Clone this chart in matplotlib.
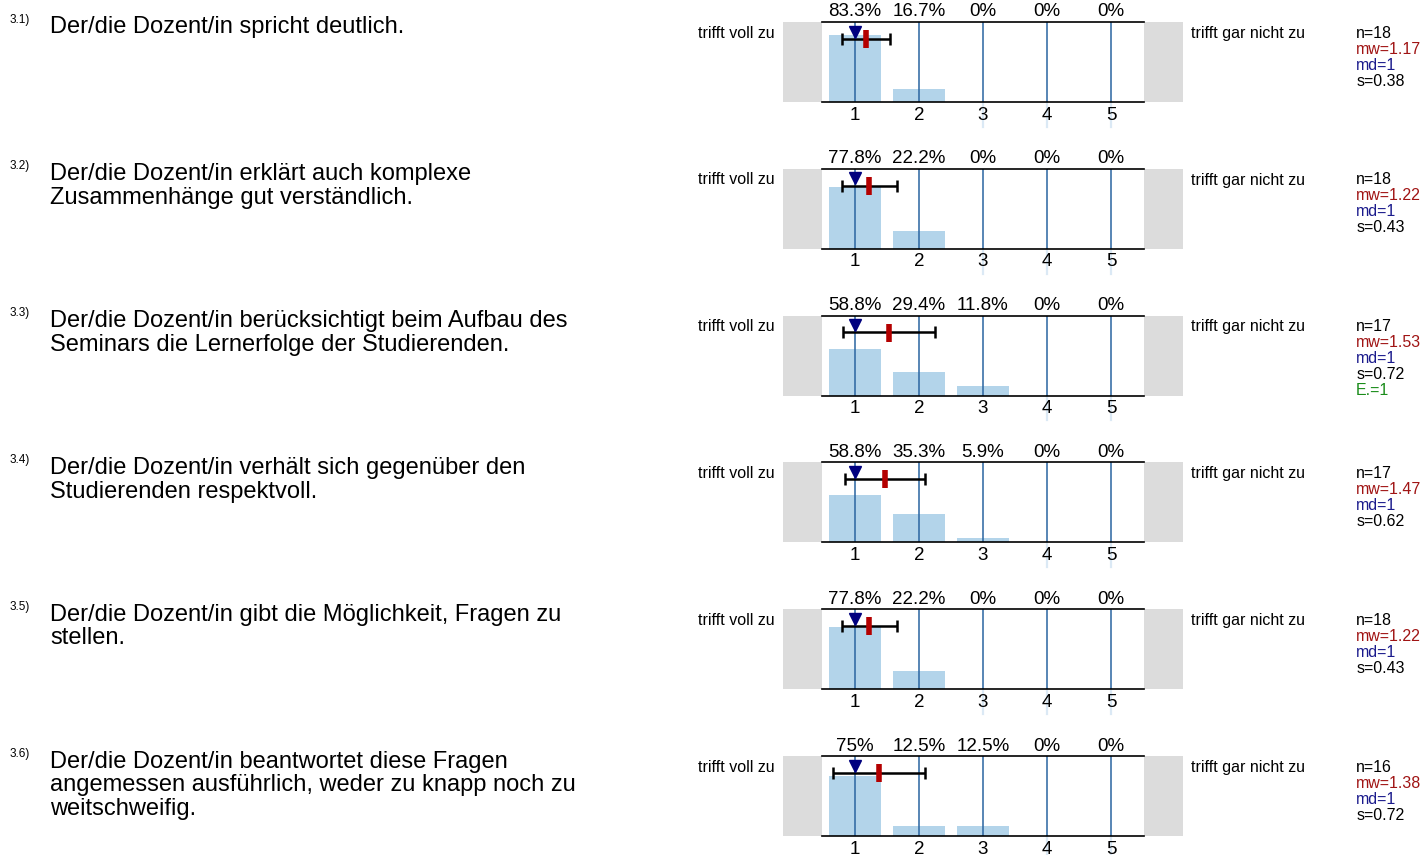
import matplotlib
matplotlib.use("Agg")
import matplotlib.pyplot as plt

plt.rcParams['font.family'] = ['Liberation Sans', 'DejaVu Sans']

# --- data ---
numbers = ["3.1)", "3.2)", "3.3)", "3.4)", "3.5)", "3.6)"]
questions = [
    "Der/die Dozent/in spricht deutlich.",
    "Der/die Dozent/in erklärt auch komplexe\nZusammenhänge gut verständlich.",
    "Der/die Dozent/in berücksichtigt beim Aufbau des\nSeminars die Lernerfolge der Studierenden.",
    "Der/die Dozent/in verhält sich gegenüber den\nStudierenden respektvoll.",
    "Der/die Dozent/in gibt die Möglichkeit, Fragen zu\nstellen.",
    "Der/die Dozent/in beantwortet diese Fragen\nangemessen ausführlich, weder zu knapp noch zu\nweitschweifig.",
]
categories = [1, 2, 3, 4, 5]
percents = [
    [83.3, 16.7, 0, 0, 0],
    [77.8, 22.2, 0, 0, 0],
    [58.8, 29.4, 11.8, 0, 0],
    [58.8, 35.3, 5.9, 0, 0],
    [77.8, 22.2, 0, 0, 0],
    [75, 12.5, 12.5, 0, 0],
]
pct_labels = [
    ["83.3%", "16.7%", "0%", "0%", "0%"],
    ["77.8%", "22.2%", "0%", "0%", "0%"],
    ["58.8%", "29.4%", "11.8%", "0%", "0%"],
    ["58.8%", "35.3%", "5.9%", "0%", "0%"],
    ["77.8%", "22.2%", "0%", "0%", "0%"],
    ["75%", "12.5%", "12.5%", "0%", "0%"],
]
n_vals = [18, 18, 17, 17, 18, 16]
means = [1.17, 1.22, 1.53, 1.47, 1.22, 1.38]
medians = [1, 1, 1, 1, 1, 1]
stds = [0.38, 0.43, 0.72, 0.62, 0.43, 0.72]
abstentions = [None, None, 1, None, None, None]
left_label = "trifft voll zu"
right_label = "trifft gar nicht zu"

W, H = 1425, 855
fig = plt.figure(figsize=(W / 100, H / 100), dpi=100)

bar_color = "#b3d4ea"
line_color = "#2a64a0"
gray = "#dcdcdc"

row_step = 146.8
for i in range(6):
    top = 22 + i * row_step
    ax = fig.add_axes([783 / W, 1 - (top + 80) / H, 400 / W, 80 / H])
    ax.set_xlim(-0.125, 6.125)
    ax.set_ylim(0, 100)
    ax.axis("off")

    # gray side boxes
    ax.axvspan(-0.125, 0.484, color=gray, lw=0)
    ax.axvspan(5.516, 6.125, color=gray, lw=0)

    ax.bar(categories, percents[i], width=0.8, color=bar_color, zorder=1)
    for c, p in zip(categories, percents[i]):
        ax.plot([c, c], [0, 100], color=line_color, lw=1.1, zorder=2)
        if p == 0:
            ax.plot([c, c], [0, -31], color="#dbe9f5", lw=1.6, zorder=0, clip_on=False)
    ax.plot([0.484, 5.516], [100, 100], color="black", lw=1.2, zorder=3, clip_on=False)
    ax.plot([0.484, 5.516], [0, 0], color="black", lw=1.2, zorder=3, clip_on=False)

    for c, lab in zip(categories, pct_labels[i]):
        ax.text(c, 112.5, lab, ha="center", va="center", fontsize=13.5, clip_on=False)
        ax.text(c, -16.5, str(c), ha="center", va="center", fontsize=13.5, clip_on=False)

    # std error bar, mean, median
    ax.errorbar(means[i], 79, xerr=stds[i], color="black", lw=1.8,
                capsize=4.5, capthick=1.8, zorder=4)
    ax.plot([means[i], means[i]], [67.5, 90], color="#b40000", lw=4,
            solid_capstyle="butt", zorder=5)
    ax.plot(medians[i], 88, marker="v", markersize=8, color="#00007f", zorder=6)

    ax.text(-0.25, 86, left_label, ha="right", va="center", fontsize=11.5, clip_on=False)
    ax.text(6.25, 86, right_label, ha="left", va="center", fontsize=11.5, clip_on=False)

    stats = [("n=%d" % n_vals[i], "black"),
             ("mw=%.2f" % means[i], "#a01414"),
             ("md=%d" % medians[i], "#1a1a8c"),
             ("s=%.2f" % stds[i], "black")]
    if abstentions[i] is not None:
        stats.append(("E.=%d" % abstentions[i], "#1a8c1a"))
    for k, (txt, col) in enumerate(stats):
        ax.text(8.83, 86 - 20 * k, txt, ha="left", va="center", fontsize=11.5,
                color=col, clip_on=False)

    base = 33.5 + i * row_step
    fig.text(10 / W, 1 - (base - 11) / H, numbers[i], fontsize=8.5,
             ha="left", va="baseline")
    fig.text(50 / W, 1 - (base - 17) / H, questions[i], fontsize=17,
             ha="left", va="top", linespacing=1.1)

fig.savefig("out.png", dpi=100)
